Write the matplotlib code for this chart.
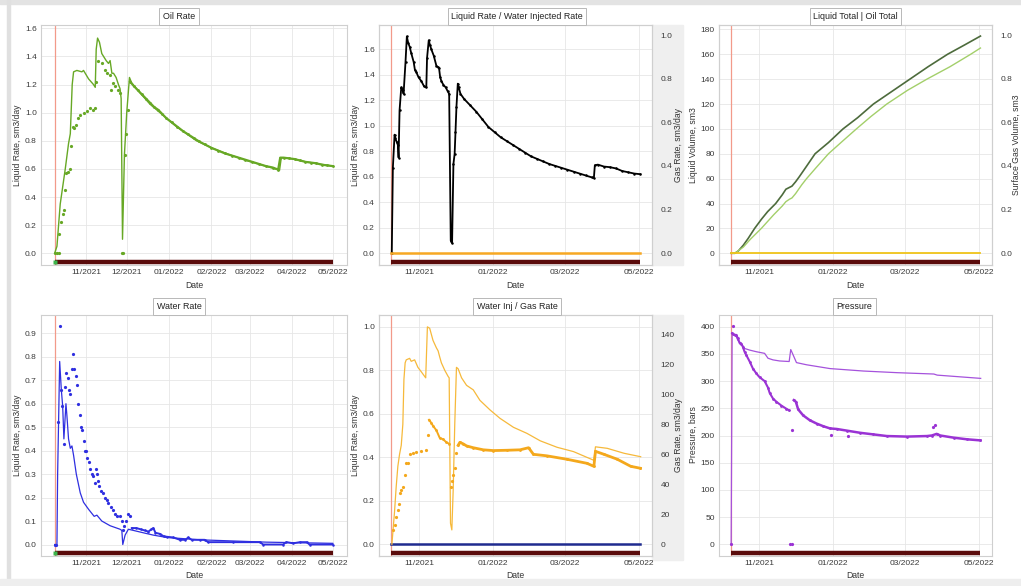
import numpy as np
import matplotlib
matplotlib.use('Agg')
import matplotlib.pyplot as plt
import matplotlib.dates as mdates
from matplotlib.transforms import blended_transform_factory
from matplotlib.patches import Rectangle

plt.rcParams['font.family'] = ['Liberation Sans', 'DejaVu Sans']

# == data: days since first production date ====================================
START = '2021-10-09'
END_DAY = 204.5
XLIM_DAYS = [-10, 214.5]

# Oil Rate
oil_sim_days = [0, 1.7, 4.1, 7.8, 10.2, 11.5, 12.9, 13.9, 16.3, 20, 21.2, 24.9, 28.5, 29.8, 30.5, 31.5,
                32.9, 34.6, 37.8, 39.5, 40.7, 42, 43.2, 45.1, 46.8, 48, 48.8, 49.8, 51.2, 52.9, 54.9, 56.6,
                62.7, 70, 77.3, 89.5, 104.1, 116.3, 128.5, 140.7, 153, 163.9, 165, 166.3, 172.4, 184.6,
                194.4, 204.1]
oil_sim = [0, 0.05, 0.35, 0.6, 0.78, 0.85, 1.2, 1.29, 1.30, 1.29, 1.30, 1.24, 1.20, 1.18, 1.45, 1.53,
           1.50, 1.42, 1.37, 1.35, 1.37, 1.28, 1.28, 1.25, 1.20, 1.17, 1.10, 0.10, 0.70, 1.00, 1.25, 1.21,
           1.14, 1.06, 1.00, 0.90, 0.80, 0.745, 0.70, 0.66, 0.625, 0.595, 0.59, 0.68, 0.675, 0.65,
           0.635, 0.62]
oil_obs_days = [0.5, 1.5, 2.9, 3.2, 4.6, 5.9, 6.6, 7.3, 8.3, 9.8, 11, 12, 13.4, 14.4, 15.9, 16.8, 18.8,
                21.2, 24.1, 26.1, 28.3, 29.3, 30.5, 31.5, 34.6, 37, 38.3, 40.7, 41.5, 42.7, 44.4, 46.8,
                48, 49.3, 50.5, 51.7, 52.4, 54.1]
oil_obs = [0, 0, 0, 0.14, 0.22, 0.28, 0.31, 0.45, 0.57, 0.58, 0.6, 0.76, 0.9, 0.89, 0.91, 0.96, 0.98,
           1.0, 1.01, 1.03, 1.02, 1.03, 1.22, 1.37, 1.35, 1.30, 1.28, 1.27, 1.16, 1.21, 1.19, 1.16,
           1.14, 0, 0, 0.7, 0.85, 1.02]
oil_tail_days = [55.4, 58, 61, 64, 67, 70, 73, 76, 79, 82, 86, 90, 94, 98, 102, 106, 110, 115, 120, 125,
                 130, 135, 140, 145, 150, 155, 160, 164, 165.5, 168, 172, 176, 180, 184, 188, 192, 196,
                 200, 204]
oil_tail = [1.22, 1.19, 1.16, 1.13, 1.10, 1.07, 1.04, 1.02, 0.99, 0.96, 0.93, 0.90, 0.87, 0.845, 0.82,
            0.795, 0.775, 0.75, 0.73, 0.71, 0.695, 0.68, 0.665, 0.65, 0.635, 0.62, 0.61, 0.595, 0.68,
            0.68, 0.675, 0.67, 0.66, 0.65, 0.645, 0.64, 0.63, 0.625, 0.62]

# Liquid Rate / Water Injected Rate
liq_days = [0.5, 1.4, 2.8, 3.5, 4.7, 5.5, 6.1, 6.9, 8.3, 9.5, 10.2, 11.8, 12.9, 14, 15.2, 16.5, 18.5,
            19.5, 20.7, 22.5, 24.8, 27, 28.9, 29.5, 30.9, 32, 33, 35, 37.2, 38.5, 39.4, 40.3, 41.3, 43,
            44.9, 46.5, 47.7, 49, 50.1, 51.2, 52.2, 52.9, 53.7, 54.8, 55.6, 57, 60, 65, 70, 75, 80, 85,
            90, 95, 100, 105, 110, 115, 120, 125, 130, 135, 140, 145, 150, 155, 160, 165, 166.7, 167.5,
            170, 175, 180, 185, 190, 195, 200, 205]
liq = [0, 0.67, 0.93, 0.9, 0.87, 0.85, 0.75, 1.12, 1.30, 1.28, 1.25, 1.50, 1.70, 1.65, 1.62, 1.57, 1.50,
       1.44, 1.42, 1.38, 1.35, 1.31, 1.30, 1.53, 1.67, 1.63, 1.60, 1.55, 1.47, 1.46, 1.45, 1.38, 1.35, 1.32,
       1.30, 1.27, 1.25, 0.10, 0.08, 0.70, 0.78, 0.95, 1.15, 1.33, 1.30, 1.25, 1.21, 1.16, 1.11, 1.05, 0.99,
       0.95, 0.91, 0.88, 0.85, 0.82, 0.79, 0.76, 0.74, 0.72, 0.70, 0.685, 0.67, 0.655, 0.64, 0.625, 0.61,
       0.595, 0.59, 0.69, 0.695, 0.68, 0.675, 0.665, 0.645, 0.635, 0.625, 0.62]
gas_rate_days = [0, 205]
gas_rate = [0.0, 0.0]

# Liquid Total | Oil Total
liqtot_days = [0, 3, 6, 10, 14, 19.3, 25, 30, 36.6, 42, 45, 48, 50, 53, 56, 62, 69, 80, 92, 104, 117,
               132, 147, 162, 178, 192, 205]
liqtot = [0, 0, 2, 6.5, 12, 20, 27.5, 33.5, 40, 47, 51.5, 53, 54, 57.5, 61.5, 70, 80, 89, 100, 109, 120,
          130, 140, 150, 160, 167.5, 174.6]
oiltot_days = [0, 3, 10, 16, 24.8, 35, 42, 45, 48, 50, 53, 58, 62, 70, 80, 92, 103, 115, 128, 145, 161,
               180, 197, 205]
oiltot = [0, 0, 5, 11.5, 20, 31, 38, 41.5, 43.5, 44.5, 48, 55, 60, 69, 80, 90.5, 100, 110, 120, 131, 140,
          150, 160, 165]
gastot_days = [0, 205]
gastot = [0.0, 0.0]

# Water Rate
wat_sim_days = [0, 0.5, 1.7, 2.2, 3.7, 4.9, 5.9, 6.8, 8.3, 9, 10.2, 11.5, 12.7, 13.9, 15.9, 18.8, 21.2,
                24.9, 29, 31, 34.6, 40.7, 48, 49.3, 50, 51.7, 54.1, 57.8, 65, 72.4, 82.2, 94.4, 106.6,
                131, 155.4, 204]
wat_sim = [0, 0, 0, 0.3, 0.78, 0.66, 0.59, 0.45, 0.60, 0.55, 0.45, 0.41, 0.42, 0.38, 0.30, 0.22, 0.18,
           0.15, 0.12, 0.125, 0.10, 0.08, 0.065, 0.06, 0.0, 0.04, 0.065, 0.06, 0.05, 0.04, 0.03, 0.025,
           0.02, 0.015, 0.01, 0.005]
wat_obs_days = [0.5, 1.2, 2.4, 3.7, 4.9, 5.6, 6.6, 7.8, 8.5, 9.5, 10.7, 11.5, 12.7, 13.4, 14.4, 15.6,
                16.3, 17.3, 18.3, 19.3, 20.2, 21.2, 22, 23.2, 24.1, 25.1, 26.1, 27.1, 28, 29.3, 30.2, 31,
                32, 32.9, 34.1, 35.4, 36.6, 38.3, 39.5, 41.2, 42.7, 44.4, 46.1, 48, 49.3, 50, 51, 52.4,
                54.1, 55.4]
wat_obs = [0, 0, 0.52, 0.93, 0.66, 0.59, 0.43, 0.67, 0.73, 0.71, 0.66, 0.64, 0.75, 0.81, 0.75, 0.72,
           0.68, 0.60, 0.55, 0.50, 0.49, 0.44, 0.40, 0.40, 0.37, 0.35, 0.32, 0.30, 0.29, 0.26, 0.32, 0.30,
           0.27, 0.25, 0.23, 0.22, 0.20, 0.19, 0.175, 0.16, 0.147, 0.13, 0.12, 0.12, 0.10, 0.06, 0.08,
           0.10, 0.13, 0.12]
wat_tail_days = [56.6, 60, 63, 66, 68.8, 71, 72.4, 74, 77.3, 80, 82.2, 87, 92, 96, 98, 100.5, 106.6, 110,
                 112.7, 131, 150.5, 153, 167.6, 170, 175, 180, 185, 187, 204]
wat_tail = [0.07, 0.07, 0.065, 0.06, 0.055, 0.065, 0.07, 0.05, 0.045, 0.035, 0.033, 0.03, 0.02, 0.02,
            0.03, 0.02, 0.02, 0.02, 0.01, 0.01, 0.01, 0.0, 0.0, 0.01, 0.005, 0.01, 0.01, 0.0, 0.0]

# Water Inj / Gas Rate
winj_days = [0, 205]
winj = [0.0, 0.0]
gas_sim_days = [0.6, 1.4, 2.8, 4.1, 5.5, 6.9, 8.3, 9.6, 10.5, 11.5, 12.4, 15.2, 16.5, 19.3, 22, 24.8,
                27.5, 28.4, 29.8, 31.7, 34.4, 37.2, 38.6, 39.9, 41.3, 44.1, 46.8, 47.7, 48.8, 49.9, 51,
                52.3, 53.7, 55.1, 57.9, 62, 67.5, 73, 81.3, 89.5, 100.6, 111.6, 122.6, 136.4, 150, 166.7,
                168, 177.7, 191.5, 205.2]
gas_sim = [0, 8, 22, 38, 52, 60, 66, 80, 110, 121, 123, 124, 122, 123, 118, 115, 112, 111, 145, 144, 136,
           131, 129, 125, 121, 116, 112, 111, 14, 9.6, 36, 80, 118, 117, 111, 106, 103, 96, 89.6, 84, 78,
           74, 69, 64.7, 61.8, 56, 65, 64, 60.7, 58.4]
gas_obs_days = [1.9, 2.8, 4.1, 5.5, 6.3, 7.4, 8.3, 9.6, 11, 12.4, 13.8, 15.2, 17.9, 20.7, 24.8, 28.9, 30,
                49, 49.9, 51, 52.3, 53.7]
gas_obs = [9.6, 13, 18, 23, 27, 34, 36, 38, 46, 54, 54, 60, 61, 61.6, 62, 63, 73,
           38, 42, 46, 51, 61]
gas_band1_days = [31.1, 33, 34.4, 37.2, 39.9, 42.7, 45.5, 47.7]
gas_band1 = [83, 81, 79, 76, 71, 70, 68, 67]
gas_band2_days = [55.1, 56.5, 59.2, 62, 67.5, 75.8, 84, 95, 106, 113, 117, 128, 144.6, 161, 166.7, 168,
                  175, 186, 197, 205]
gas_band2 = [66, 68, 67, 65.6, 64.4, 63, 62.5, 62.7, 63, 64.4, 60, 59, 56.7, 54, 52, 62, 60, 56.7, 52,
             50.7]

# Pressure
pres_sim_days = [0, 0.8, 1.4, 2.8, 4.1, 5.5, 8.3, 11, 15.2, 20.7, 27.5, 30.3, 34.4, 39.9, 47.7, 49, 50.4,
                 53.7, 62, 81.3, 108.8, 136.4, 166.7, 169.4, 205.2]
pres_sim = [0, 385, 388, 385, 382, 375, 369, 360, 357, 354, 351, 342, 339, 337, 336, 358, 351, 334, 330,
            323, 318.5, 315.5, 313, 311, 305]
pres_a_days = [0.8, 1.9, 2.8, 4.1, 5.5, 6.9, 8.3, 9.6, 11, 12.4, 15.2, 17.9, 20.7, 23.4, 27.5, 30.3,
               31.7, 34.4, 37.2, 41.3, 45.5, 47.7]
pres_a = [388, 386, 385, 385, 379, 370, 369, 363, 354, 348, 336, 323, 314, 307, 300, 288, 278, 268, 262,
          255, 249, 246]
pres_b_days = [51.5, 53.2, 55.1, 59.2, 64.7, 70.2, 75.8, 81.3, 86.8, 95, 106, 117, 128, 144.6, 161, 165,
               169, 172, 183, 194, 205]
pres_b = [265, 262, 248, 237, 228, 222, 217, 213, 212, 209, 205, 202, 199, 198, 199, 200, 203, 200, 196,
          193, 191]
pres_out_days = [0, 1.9, 48.2, 50.1, 50.4, 81.8, 95.9, 166, 167.5]
pres_out = [0, 401, 0, 0, 210, 201, 200, 216, 219]

# == figure ====================================================================
W, H = 1021, 586
fig = plt.figure(figsize=(W / 100, H / 100), dpi=100)
T0 = mdates.datestr2num(START)
TICK_FS = 6.0


def dn(days):
    return T0 + np.asarray(days, dtype=float)


def px_axes(l, t, r, b):
    return fig.add_axes([l / W, 1 - b / H, (r - l) / W, (b - t) / H])


def style(ax, ylim, yticks, months):
    ax.xaxis_date()
    ax.set_xlim(dn(XLIM_DAYS))
    ax.set_ylim(ylim)
    ax.set_yticks(yticks)
    ax.xaxis.set_major_locator(mdates.MonthLocator(bymonth=months))
    ax.xaxis.set_major_formatter(mdates.DateFormatter('%m/%Y'))
    ax.grid(True, color='#e6e6e6', lw=0.6)
    ax.set_axisbelow(True)
    for s in ax.spines.values():
        s.set_color('#cfcfcf')
        s.set_linewidth(0.8)
    ax.tick_params(length=0, labelsize=TICK_FS, colors='#3a3a3a', pad=3)
    # start marker line and production bar
    ax.axvline(dn([0])[0], color='#f29a8a', lw=0.9, zorder=1)
    tr = blended_transform_factory(ax.transData, ax.transAxes)
    ax.plot(dn([0, END_DAY]), [0.012, 0.012], transform=tr, color='#5a0b0b', lw=3.2,
            solid_capstyle='butt', zorder=4, clip_on=False)


def twin_style(ax, ylim, yticks):
    ax.set_ylim(ylim)
    ax.set_yticks(yticks)
    ax.tick_params(length=0, labelsize=TICK_FS, colors='#3a3a3a', pad=6)
    for s in ax.spines.values():
        s.set_color('#cfcfcf')
        s.set_linewidth(0.8)


def title(x, y, s):
    fig.text(x / W, 1 - y / H, s, ha='center', va='center', fontsize=6.4, color='#222222',
             bbox=dict(boxstyle='square,pad=0.4', fc='white', ec='#b8b8b8', lw=0.7))


def label(x, y, s, rot=0):
    fig.text(x / W, 1 - y / H, s, ha='center', va='center', fontsize=6.2, color='#333333',
             rotation=rot)


# background frame pieces of the screenshot
for (x0, y0, x1, y1, c) in [(0, 0, W, 4, '#e3e3e3'), (7, 0, 10, H, '#e0e0e0'),
                            (0, 579, W, H, '#eeeeee'), (652, 25, 683, 265, '#efefef'),
                            (652, 315, 683, 560, '#efefef')]:
    fig.patches.append(Rectangle((x0 / W, 1 - y1 / H), (x1 - x0) / W, (y1 - y0) / H,
                                 transform=fig.transFigure, color=c, zorder=-5))

MONTHLY = [11, 12, 1, 2, 3, 4, 5]
BIMONTH = [11, 1, 3, 5]
GREEN = '#67a825'

# -- Oil Rate
ax1 = px_axes(41, 25, 347, 265)
style(ax1, (-0.083, 1.623), np.arange(0, 1.61, 0.2), MONTHLY)
ax1.plot(dn(oil_sim_days), oil_sim, color=GREEN, lw=1.0, zorder=3)
ax1.plot(dn(oil_tail_days), oil_tail, color=GREEN, lw=1.6, marker='o', ms=2, mec='none', zorder=3)
ax1.plot(dn(oil_obs_days), oil_obs, ls='none', color=GREEN, marker='o', ms=2.3, mec='none', zorder=3)
ax1.plot(dn([0]), [0.012], transform=blended_transform_factory(ax1.transData, ax1.transAxes),
         marker='s', ms=2.5, color='#3cb44b', mec='none', zorder=5, clip_on=False)

# -- Liquid Rate / Water Injected Rate
ax2 = px_axes(379, 25, 652, 265)
style(ax2, (-0.092, 1.79), np.arange(0, 1.61, 0.2), BIMONTH)
ax2r = ax2.twinx()
twin_style(ax2r, (-0.054, 1.046), np.arange(0, 1.01, 0.2))
ax2r.plot(dn(gas_rate_days), gas_rate, color='#f7a823', lw=1.8, zorder=3)
ax2.plot(dn(liq_days), liq, color='black', lw=1.3, marker='o', ms=1.8, mec='none', zorder=3)

# -- Liquid Total | Oil Total
ax3 = px_axes(719, 25, 992, 265)
style(ax3, (-9.4, 183.5), np.arange(0, 181, 20), BIMONTH)
ax3r = ax3.twinx()
twin_style(ax3r, (-0.054, 1.046), np.arange(0, 1.01, 0.2))
ax3r.plot(dn(gastot_days), gastot, color='#f0c419', lw=1.3, zorder=3)
ax3.plot(dn(liqtot_days), liqtot, color='#4d6b3c', lw=1.2, zorder=3)
ax3.plot(dn(oiltot_days), oiltot, color='#a3cf6a', lw=1.0, zorder=3)

# -- Water Rate
ax4 = px_axes(41, 315, 347, 556)
style(ax4, (-0.049, 0.978), np.arange(0, 0.91, 0.1), MONTHLY)
BLUE = '#2f2fe0'
ax4.plot(dn(wat_sim_days), wat_sim, color=BLUE, lw=0.9, zorder=3)
ax4.plot(dn(wat_tail_days), wat_tail, color=BLUE, lw=1.4, marker='o', ms=1.8, mec='none', zorder=3)
ax4.plot(dn(wat_obs_days), wat_obs, ls='none', color=BLUE, marker='o', ms=2.3, mec='none', zorder=3)
ax4.plot(dn([0]), [0.012], transform=blended_transform_factory(ax4.transData, ax4.transAxes),
         marker='s', ms=2.5, color='#3cb44b', mec='none', zorder=5, clip_on=False)

# -- Water Inj / Gas Rate
ax5 = px_axes(379, 315, 652, 556)
style(ax5, (-0.054, 1.053), np.arange(0, 1.01, 0.2), BIMONTH)
ax5r = ax5.twinx()
twin_style(ax5r, (-7.8, 152.9), np.arange(0, 141, 20))
ORANGE = '#f4a81c'
ax5.plot(dn(winj_days), winj, color='#1f2b8f', lw=1.8, zorder=3)
ax5r.plot(dn(gas_sim_days), gas_sim, color='#f6b93b', lw=0.9, zorder=3)
ax5r.plot(dn(gas_band1_days), gas_band1, color=ORANGE, lw=1.4, marker='o', ms=2, mec='none', zorder=3)
ax5r.plot(dn(gas_band2_days), gas_band2, color=ORANGE, lw=2.0, marker='o', ms=2, mec='none', zorder=3)
ax5r.plot(dn(gas_obs_days), gas_obs, ls='none', color=ORANGE, marker='o', ms=2.3, mec='none', zorder=3)

# -- Pressure
ax6 = px_axes(719, 315, 992, 556)
style(ax6, (-21.5, 421.5), np.arange(0, 401, 50), BIMONTH)
PURPLE = '#9a33d4'
ax6.plot(dn(pres_sim_days), pres_sim, color='#a552dc', lw=0.9, zorder=3)
ax6.plot(dn(pres_a_days), pres_a, color=PURPLE, lw=1.5, marker='o', ms=2, mec='none', zorder=3)
ax6.plot(dn(pres_b_days), pres_b, color=PURPLE, lw=1.8, marker='o', ms=2, mec='none', zorder=3)
ax6.plot(dn(pres_out_days), pres_out, ls='none', color=PURPLE, marker='o', ms=2.3, mec='none', zorder=3)

# titles and axis labels
title(179, 16.5, 'Oil Rate')
title(517, 16.5, 'Liquid Rate / Water Injected Rate')
title(855.5, 16.5, 'Liquid Total | Oil Total')
title(179, 306.5, 'Water Rate')
title(517, 306.5, 'Water Inj / Gas Rate')
title(854.5, 306.5, 'Pressure')

for x in (194, 515.5, 855.5):
    label(x, 285, 'Date')
    label(x, 576, 'Date')

label(18, 145, 'Liquid Rate, sm3/day', 90)
label(355, 145, 'Liquid Rate, sm3/day', 90)
label(678, 145, 'Gas Rate, sm3/day', 90)
label(693, 145, 'Liquid Volume, sm3', 90)
label(1016, 145, 'Surface Gas Volume, sm3', 90)
label(18, 435, 'Liquid Rate, sm3/day', 90)
label(355, 435, 'Liquid Rate, sm3/day', 90)
label(678, 435, 'Gas Rate, sm3/day', 90)
label(693, 435, 'Pressure, bars', 90)

fig.savefig('out.png', dpi=100)
